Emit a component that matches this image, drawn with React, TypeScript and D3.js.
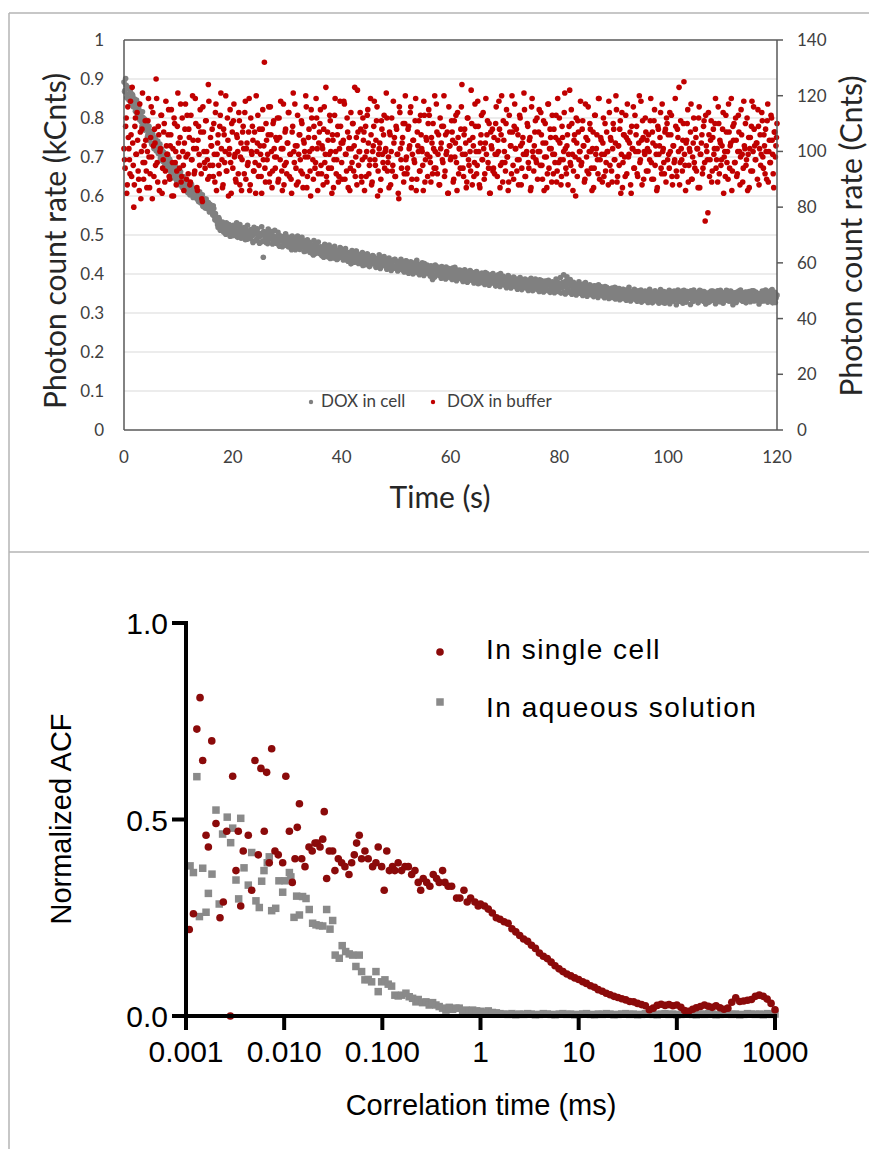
import React from 'react';
import * as d3 from 'd3';

// ---------- Top chart: photon count rate vs time ----------
// readouts at t = 0, 0.2, 0.4 ... 120 s
const cellCountK = [
.892,.871,.884,.860,.878, .850,.866,.842,.858,.835, .829,.845,.812,.838,.820, .803,.790,.816,.781,.797,
.770,.788,.758,.779,.749, .761,.735,.752,.728,.744, .720,.741,.712,.733,.705, .716,.694,.708,.683,.700,
.690,.672,.694,.662,.681, .668,.652,.679,.646,.660, .655,.638,.662,.630,.648, .641,.622,.636,.617,.630,
.625,.612,.630,.604,.618, .611,.598,.607,.590,.603, .598,.585,.603,.578,.592, .588,.574,.581,.566,.579,
.572,.561,.575,.548,.555, .538,.526,.545,.521,.532, .528,.515,.522,.509,.531, .518,.505,.524,.512,.498,
.516,.503,.522,.509,.496, .511,.522,.500,.514,.493, .508,.497,.515,.489,.503, .505,.491,.512,.498,.484,
.503,.514,.490,.506,.495, .497,.482,.505,.443,.500, .488,.499,.478,.492,.503, .493,.505,.481,.496,.487,
.479,.492,.498,.471,.486, .487,.495,.479,.490,.474, .491,.470,.482,.477,.462, .480,.492,.468,.483,.473,
.466,.478,.484,.470,.487, .472,.481,.459,.474,.465, .477,.455,.468,.462,.449, .466,.476,.458,.469,.453,
.455,.468,.447,.461,.472, .458,.466,.444,.460,.451, .463,.450,.447,.459,.441, .452,.438,.461,.449,.466,
.447,.459,.439,.455,.444, .452,.433,.447,.442,.428, .436,.449,.440,.458,.431, .441,.429,.447,.435,.455,
.430,.445,.426,.438,.449, .435,.421,.441,.430,.446, .427,.440,.424,.437,.418, .431,.419,.440,.428,.445,
.422,.436,.416,.433,.425, .427,.413,.435,.421,.438, .418,.432,.414,.426,.420, .423,.410,.431,.418,.434,
.414,.429,.409,.420,.412, .419,.428,.406,.422,.435, .410,.405,.424,.413,.429, .415,.427,.403,.419,.408,
.404,.418,.421,.409,.398, .411,.423,.398,.416,.404, .401,.396,.419,.405,.414, .407,.418,.394,.412,.401,
.405,.392,.415,.400,.417, .398,.410,.389,.404,.396, .407,.386,.399,.411,.393, .401,.384,.396,.409,.388,
.392,.403,.381,.397,.406, .386,.399,.391,.378,.402, .395,.383,.404,.389,.380, .390,.376,.398,.386,.401,
.381,.394,.372,.388,.397, .384,.401,.377,.392,.374, .389,.371,.383,.396,.378, .375,.388,.369,.392,.380,
.386,.373,.379,.364,.391, .377,.385,.367,.381,.372, .369,.384,.376,.362,.389, .381,.366,.373,.387,.370,
.363,.378,.385,.371,.359, .376,.368,.382,.360,.374, .384,.371,.358,.377,.366, .362,.375,.387,.369,.356,
.373,.391,.365,.378,.398, .368,.382,.393,.360,.375, .386,.370,.355,.379,.366, .358,.373,.364,.380,.352,
.369,.356,.374,.361,.378, .354,.367,.349,.372,.360, .365,.351,.370,.357,.346, .361,.372,.353,.366,.348,
.344,.359,.368,.351,.363, .357,.346,.362,.340,.355, .352,.366,.345,.358,.341, .363,.348,.356,.337,.360,
.345,.358,.340,.353,.366, .350,.337,.355,.344,.361, .342,.357,.335,.351,.347, .359,.338,.349,.332,.356,
.343,.354,.336,.361,.346, .335,.350,.344,.357,.339, .352,.333,.347,.360,.341, .338,.355,.325,.346,.351,
.344,.358,.336,.349,.331, .353,.340,.347,.334,.359, .337,.350,.343,.356,.333, .348,.331,.355,.342,.352,
.339,.357,.345,.330,.350, .346,.334,.353,.340,.358, .332,.349,.338,.355,.343, .351,.336,.347,.329,.354,
.341,.356,.333,.348,.337, .350,.330,.345,.358,.339, .336,.352,.342,.334,.357, .347,.331,.355,.340,.350,
.333,.348,.337,.353,.344, .356,.340,.349,.332,.346, .338,.354,.335,.351,.342, .349,.334,.357,.343,.331,
.345,.352,.336,.348,.340, .330,.347,.355,.339,.351, .343,.336,.350,.332,.357, .348,.326,.344,.353,.338,
.346
];
// readouts at t = 0.1, 0.3, 0.5 ... 119.9 s
const cellCountKOdd = [
.868,.901,.852,.879,.846, .872,.838,.861,.829,.849, .817,.846,.803,.829,.795, .812,.778,.801,.769,.790,
.782,.751,.770,.742,.766, .733,.759,.722,.748,.716, .737,.709,.726,.697,.721, .689,.712,.678,.704,.672,
.701,.668,.684,.657,.679, .646,.670,.655,.637,.664, .629,.657,.641,.622,.650, .644,.618,.633,.609,.627,
.603,.627,.612,.596,.620, .619,.594,.605,.586,.611, .582,.601,.574,.593,.569, .592,.568,.583,.559,.577,
.563,.552,.568,.539,.546, .534,.519,.540,.512,.527, .533,.508,.519,.502,.526, .509,.527,.497,.521,.511,
.525,.499,.513,.531,.494, .506,.527,.492,.517,.501, .519,.488,.510,.525,.497, .493,.514,.502,.481,.520,
.510,.486,.516,.497,.479, .503,.521,.484,.509,.492, .481,.504,.515,.489,.498, .509,.477,.496,.512,.483,
.492,.507,.473,.498,.485, .470,.496,.488,.503,.479, .495,.474,.489,.466,.497, .476,.491,.462,.485,.497,
.489,.463,.478,.494,.470, .458,.483,.471,.488,.462, .481,.460,.474,.451,.486, .452,.477,.463,.482,.458,
.470,.449,.464,.443,.476, .447,.469,.456,.474,.440, .466,.441,.458,.471,.452, .437,.460,.446,.468,.443,
.458,.436,.452,.465,.440, .434,.455,.441,.426,.460, .451,.430,.446,.459,.437, .427,.450,.435,.444,.422,
.447,.424,.440,.452,.431, .419,.443,.430,.447,.426, .441,.417,.436,.423,.449, .414,.438,.425,.443,.421,
.436,.412,.428,.441,.419, .409,.433,.420,.437,.415, .431,.408,.426,.414,.438, .412,.429,.405,.421,.433,
.426,.402,.418,.431,.410, .400,.424,.413,.428,.404, .421,.398,.416,.426,.406, .396,.419,.408,.423,.401,
.417,.394,.411,.386,.420, .392,.414,.403,.418,.397, .412,.389,.406,.416,.395, .387,.409,.398,.414,.391,
.408,.386,.401,.413,.392, .383,.405,.394,.410,.388, .404,.381,.397,.409,.385, .379,.402,.390,.406,.384,
.400,.377,.393,.405,.381, .375,.398,.386,.402,.380, .396,.373,.389,.401,.377, .371,.394,.382,.398,.376,
.392,.369,.385,.397,.373, .368,.390,.378,.394,.372, .388,.365,.381,.393,.369, .364,.386,.374,.390,.368,
.384,.361,.377,.389,.365, .360,.382,.370,.387,.364, .380,.358,.373,.386,.362, .357,.379,.367,.384,.361,
.378,.355,.370,.383,.360, .354,.377,.365,.381,.358, .376,.353,.368,.380,.357, .352,.375,.362,.379,.355,
.374,.351,.366,.378,.354, .349,.372,.360,.376,.353, .371,.348,.363,.375,.351, .346,.369,.357,.373,.350,
.368,.345,.360,.372,.349, .343,.366,.354,.370,.347, .364,.342,.357,.369,.346, .340,.363,.351,.367,.344,
.361,.339,.354,.366,.343, .337,.360,.348,.364,.341, .358,.336,.351,.363,.340, .334,.357,.345,.361,.338,
.355,.333,.348,.360,.337, .331,.354,.342,.358,.335, .352,.330,.345,.357,.334, .328,.351,.339,.355,.332,
.349,.327,.342,.356,.333, .326,.350,.338,.354,.331, .348,.325,.341,.355,.332, .327,.349,.337,.353,.330,
.347,.324,.340,.354,.331, .356,.335,.321,.349,.343, .330,.352,.339,.325,.358, .345,.328,.355,.337,.350,
.322,.346,.333,.359,.340, .351,.336,.326,.348,.357, .339,.355,.330,.344,.323, .348,.327,.352,.338,.356,
.333,.350,.341,.324,.347, .357,.338,.329,.353,.336, .325,.349,.343,.358,.332, .344,.331,.356,.339,.321,
.352,.337,.327,.348,.345, .334,.359,.342,.330,.351, .347,.326,.353,.338,.355, .329,.345,.336,.357,.342,
.354,.332,.348,.323,.350, .338,.356,.331,.346,.359, .345,.328,.352,.340,.333, .360,.336,.349,.327,.343
];

const bufferCount = [
101,94,112,88,105,97,118,91,103,80,109,99,114,93,86,107,100,121,90,96,
104,87,111,98,92,116,83,102,108,95,119,89,106,100,113,85,97,110,93,102,
99,115,90,106,84,101,112,96,88,109,103,94,117,91,100,86,108,98,113,92,
105,89,97,120,101,93,110,87,104,99,115,92,82,107,96,111,100,90,118,95,
102,108,91,99,114,86,103,95,109,121,97,88,106,100,93,112,84,101,96,110,
94,117,99,89,105,92,111,98,86,107,101,114,90,103,96,119,88,100,109,93,
107,85,100,113,95,102,91,108,97,132,89,104,99,116,92,106,87,110,101,94,
98,112,90,105,118,93,101,88,107,96,103,114,91,99,85,109,100,117,94,102,
89,106,97,111,92,104,100,120,87,98,108,93,115,101,90,105,96,112,86,103,
110,95,102,88,116,99,91,107,94,113,100,85,104,97,119,92,106,89,101,109,
96,103,118,90,99,112,87,105,94,101,110,93,123,98,88,107,100,114,91,97,
104,86,109,100,115,92,97,106,89,102,118,95,111,84,99,103,90,108,96,113,
100,121,93,98,107,88,112,95,103,91,109,99,85,116,101,94,105,89,110,97,
92,108,101,114,87,99,104,96,119,90,102,111,93,106,100,86,113,97,104,91,
115,98,89,103,110,94,100,117,92,106,88,101,109,96,120,93,99,107,85,102,
97,111,104,90,98,113,86,105,101,94,116,99,91,108,103,89,112,95,100,122,
88,102,96,109,92,118,100,87,106,97,114,90,103,99,111,94,85,107,101,93,
105,99,116,91,100,108,95,120,89,104,96,110,98,86,113,102,92,107,90,117,
101,93,106,97,112,88,103,99,115,91,100,109,94,105,87,119,98,102,111,96,
90,107,100,114,95,103,86,110,98,92,117,101,105,89,99,108,96,113,93,104,
112,97,91,105,100,121,94,102,88,109,96,115,99,93,106,84,103,111,97,100,
95,108,102,89,117,98,104,92,110,100,86,107,94,113,101,97,119,90,105,99,
103,91,110,96,100,88,114,105,93,101,108,97,120,89,102,95,111,99,87,106,
98,113,92,104,99,107,85,101,116,94,100,109,91,103,96,118,88,105,100,112,
93,101,106,97,119,90,103,111,95,99,87,108,102,114,92,100,96,107,89,110,
106,94,100,113,88,102,97,109,91,105,123,96,101,93,110,99,86,104,115,95,
100,117,90,103,96,108,93,101,112,87,99,106,94,111,75,102,97,114,91,104,
89,105,99,110,94,101,116,92,103,97,108,85,100,113,96,90,107,102,119,93,
104,96,112,91,100,107,88,115,99,94,102,110,97,86,105,101,93,118,100,108,
97,103,90,109,101,95,114,98,106,92,100,111,89,104,96,112,99,87,107,102,
110
];
const bufferCountOdd = [
97,109,85,116,101,92,106,123,95,88,112,99,104,90,117,83,108,96,102,111,
93,100,119,87,105,98,114,91,103,126,96,109,86,101,113,94,107,89,118,99,
106,91,102,115,96,84,110,100,93,121,98,105,89,112,95,103,117,90,99,108,
88,113,97,104,92,119,101,86,109,95,107,83,116,100,94,111,97,124,91,105,
102,95,110,89,117,99,106,92,113,101,87,108,96,120,93,104,99,115,85,107,
111,98,90,106,100,114,88,103,97,109,92,118,101,95,107,86,112,99,104,93,
96,120,103,91,108,99,85,115,102,94,110,97,106,89,116,100,93,111,98,105,
104,89,112,97,101,86,117,95,108,92,103,114,99,90,107,121,96,102,88,113,
99,106,93,110,87,103,98,116,91,105,100,84,112,97,109,94,119,101,92,107,
115,92,101,108,96,123,89,104,99,111,94,106,87,113,100,97,109,91,118,103,
90,104,117,99,93,107,101,86,114,96,110,102,91,105,122,95,100,108,89,112,
107,98,91,113,103,95,119,88,100,109,97,104,116,93,101,86,111,99,106,94,
101,112,96,87,106,100,93,118,105,91,108,99,83,114,97,103,110,92,120,98,
94,109,102,116,90,104,97,111,86,107,100,93,113,101,95,118,89,105,99,110,
113,96,105,92,101,120,94,107,99,88,112,103,97,109,91,106,100,85,116,102,
98,107,89,111,103,96,114,92,101,108,124,94,106,99,87,112,97,104,93,110,
105,91,117,100,95,109,88,103,113,97,101,92,119,106,96,110,85,102,108,94,
92,110,99,104,118,87,106,96,111,100,93,115,98,89,107,102,120,95,109,101,
108,97,88,113,102,94,105,121,91,99,110,96,104,86,116,100,93,107,97,112,
100,115,95,106,90,111,98,103,87,117,94,108,101,113,92,99,105,89,119,96,
103,88,109,97,114,101,92,106,99,122,95,110,86,104,98,112,91,107,100,118,
96,111,102,90,105,93,116,100,108,94,101,87,113,99,106,92,119,97,104,89,
112,99,93,107,100,118,95,104,89,110,97,103,115,91,102,108,85,114,96,106,
91,105,117,98,103,88,109,101,94,113,106,92,100,120,97,104,111,90,99,107,
104,93,100,111,96,107,90,115,102,86,109,99,105,94,117,101,92,108,112,97,
99,114,106,91,102,96,119,93,108,100,88,111,97,104,125,95,103,110,89,101,
107,90,98,112,94,105,101,87,116,99,103,92,109,96,113,100,78,106,97,111,
93,108,101,119,97,89,110,104,95,102,114,98,91,107,100,117,94,103,86,109,
110,96,104,92,113,100,98,106,89,118,101,95,112,99,87,105,109,93,116,102,
97,103,115,88,106,99,111,94,102,108,90,117,100,96,113,104,92,107,98,105
];

const sampleStep = 0.2; // s between readouts of one array
const oddOffset = 0.1;  // s offset of the interleaved readouts
const timeTicks = [0, 20, 40, 60, 80, 100, 120];
const kCntTicks = [0, 0.1, 0.2, 0.3, 0.4, 0.5, 0.6, 0.7, 0.8, 0.9, 1];
const cntTicks = [0, 20, 40, 60, 80, 100, 120, 140];

// ---------- Bottom chart: normalized ACF vs correlation time (ms) ----------
const cellEarly: [number, number][] = [
[.00108,.22],[.00119,.26],[.00129,.73],[.00139,.81],[.00148,.65],[.0016,.46],[.00169,.43],[.00183,.70],
[.00202,.49],[.00222,.25],[.0024,.29],[.0026,.47],[.00283,0],[.00299,.61],[.00323,.37],[.00341,.47],[.00361,.28],
[.00383,.42],[.00431,.46],[.00467,.32],[.00504,.65],[.00545,.41],[.0058,.63],[.00627,.47],[.00663,.62],
[.00705,.39],[.00746,.68],[.00806,.42],[.00871,.41],[.00966,.39],[.0104,.61],[.0113,.47],[.0121,.34],
[.0129,.40],[.0136,.48],[.0143,.54],[.0151,.40],[.0163,.38],[.0179,.43],[.0193,.42],[.0206,.44],
[.0217,.44],[.0232,.43],[.0247,.45],[.0256,.52],[.0271,.35],[.0288,.42],[.0312,.42],[.0329,.37],
[.0356,.40],[.0385,.39],[.0416,.38],[.0457,.36],[.0487,.39],[.0518,.41],[.0547,.44],[.0582,.46],
[.0615,.40],[.0665,.42],[.0718,.40],[.0796,.38],[.0861,.39],[.0908,.43],[.0984,.38],[.1045,.32],
[.111,.42],[.118,.37],[.127,.38],[.134,.37],[.145,.39],[.157,.37],[.17,.38],[.184,.38],[.199,.36],
[.215,.37],[.232,.34],[.246,.32],[.261,.35],[.283,.34],[.305,.33],[.33,.36],[.357,.35],[.38,.34],
[.411,.37],[.434,.34],[.469,.33],[.508,.33],[.571,.30],[.617,.30],[.678,.32],[.732,.29],[.793,.30],
[.877,.29],[.948,.28]
];

const solutionEarly: [number, number][] = [
[.0011,.382],[.00119,.365],[.00129,.609],[.00137,.253],[.00148,.376],[.0016,.264],[.00169,.312],
[.00184,.361],[.00202,.524],[.00218,.285],[.00236,.463],[.00263,.506],[.00285,.441],[.00299,.478],
[.00323,.346],[.00344,.298],[.00361,.503],[.0039,.377],[.00431,.333],[.00467,.416],[.00516,.293],
[.00558,.276],[.0059,.343],[.00623,.37],[.00673,.39],[.00705,.405],[.00746,.268],[.0082,.274],
[.00885,.344],[.00966,.315],[.0102,.344],[.0113,.365],[.0117,.354],[.0126,.251],[.0134,.305],
[.0143,.257],[.0154,.304],[.0167,.299],[.018,.271],[.0195,.236],[.0211,.232],[.0228,.23],[.0247,.229],
[.0271,.271],[.0293,.221],[.0312,.243],[.0331,.155],[.0364,.147],[.039,.179],[.0423,.164],[.046,.158],
[.0499,.155],[.0538,.126],[.0582,.155],[.0615,.113],[.0665,.092],[.0718,.093],[.0778,.087],[.0861,.113],
[.0908,.062],[.0984,.087],[.1063,.092],[.1148,.081],[.1243,.076],[.1343,.053],[.1452,.051],[.1572,.053],
[.1739,.058],[.1879,.049],[.2034,.045],[.2198,.036],[.232,.042],[.257,.034],[.278,.036],[.3004,.028],
[.3252,.034],[.3515,.028],[.3795,.024],[.4112,.02],[.4444,.015],[.4802,.022],[.52,.017],[.5614,.02],
[.607,.02],[.6574,.013],[.7099,.015],[.767,.011],[.831,.015],[.912,.013]
];

const lateLagMs = [
1,1.1,1.2,1.32,1.45,1.58,1.74,1.91,2.09,2.29,2.51,2.75,3.02,3.31,3.63,3.98,4.37,4.79,5.25,5.75,6.31,6.92,7.59,8.32,9.12,
10,11,12,13.2,14.5,15.8,17.4,19.1,20.9,22.9,25.1,27.5,30.2,33.1,36.3,39.8,43.7,47.9,52.5,57.5,63.1,69.2,75.9,83.2,91.2,
100,110,120,132,145,158,174,191,209,229,251,275,302,331,363,398,437,479,525,575,631,692,759,832,912,
1000
];
const cellLate = [
.285,.28,.272,.262,.25,.246,.24,.236,.222,.214,
.205,.196,.19,.18,.172,.16,.152,.146,.137,.128,
.12,.113,.107,.102,.097,.093,.087,.083,.077,.073,
.067,.063,.058,.054,.05,.047,.044,.041,.037,.036,
.032,.029,.026,.016,.02,.027,.03,.027,.029,.026,
.028,.022,.014,.012,.017,.021,.024,.028,.025,.022,
.026,.021,.017,.02,.035,.046,.037,.038,.04,.042,
.05,.053,.05,.043,.032,.016
];
const solutionLate = [
.012,.010,.013,.009,.008,.006,.005,.004,.006,.003,
.005,.004,.006,.005,.003,.004,.006,.005,.004,.003,
.005,.006,.004,.005,.003,.004,.005,.006,.004,.003,
.005,.004,.006,.005,.003,.004,.005,.006,.004,.005,
.003,.004,.006,.005,.004,.003,.005,.006,.004,.005,
.003,.004,.005,.006,.004,.003,.005,.004,.006,.005,
.003,.004,.005,.006,.004,.005,.003,.004,.006,.005,
.004,.005,.003,.006,.004,.005
];

const lagTicks = [0.001, 0.01, 0.1, 1, 10, 100, 1000];
const lagTickLabels = ['0.001', '0.010', '0.100', '1', '10', '100', '1000'];
const acfTicks = [0, 0.5, 1];
const acfTickLabels = ['0.0', '0.5', '1.0'];

const RED_TOP = '#c00000';
const GRAY_TOP = '#808080';
const RED_BOT = '#8b0a0a';
const GRAY_BOT = '#8a8a8a';

export default function App() {
  const xT = d3.scaleLinear().domain([0, 120]).range([124, 777]);
  const yL = d3.scaleLinear().domain([0, 1]).range([430, 40]);
  const yR = d3.scaleLinear().domain([0, 140]).range([430, 40]);
  const xB = d3.scaleLog().domain([0.001, 1000]).range([186, 775]);
  const yB = d3.scaleLinear().domain([0, 1]).range([1016, 623]);

  const topFont = 'Lato, "Open Sans", sans-serif';
  const botFont = '"Liberation Sans", Arial, Helvetica, sans-serif';
  const sq = 7.5;
  const rTop = 2.8;

  const cellPts: [number, number][] = [
    ...cellCountK.map((v, i) => [i * sampleStep, v] as [number, number]),
    ...cellCountKOdd.map((v, i) => [oddOffset + i * sampleStep, v] as [number, number]),
  ];
  const bufPts: [number, number][] = [
    ...bufferCount.map((v, i) => [i * sampleStep, v] as [number, number]),
    ...bufferCountOdd.map((v, i) => [oddOffset + i * sampleStep, v] as [number, number]),
  ];

  const solAll: [number, number][] = [...solutionEarly, ...lateLagMs.map((t, i) => [t, solutionLate[i]] as [number, number])];
  const cellAll: [number, number][] = [...cellEarly, ...lateLagMs.map((t, i) => [t, cellLate[i]] as [number, number])];

  return (
    <svg width={869} height={1149} style={{ position: 'absolute', left: 0, top: 0, background: '#fff' }}>
      <rect x={0} y={0} width={869} height={1149} fill="#fff" />
      {/* frame */}
      <line x1={9} y1={13} x2={869} y2={13} stroke="#b4b4b4" strokeWidth={1.5} />
      <line x1={9} y1={13} x2={9} y2={1149} stroke="#b4b4b4" strokeWidth={1.5} />
      <line x1={9} y1={552} x2={869} y2={552} stroke="#b4b4b4" strokeWidth={1.5} />

      {/* ===== top chart ===== */}
      {kCntTicks.filter((v) => v > 0 && v < 1).map((v) => (
        <line key={'g' + v} x1={xT(0)} x2={xT(120)} y1={yL(v)} y2={yL(v)} stroke="#d9d9d9" strokeWidth={1} />
      ))}
      <g>
        {cellPts.map(([t, v], i) => (
          <circle key={'c' + i} cx={xT(t)} cy={yL(v)} r={rTop} fill={GRAY_TOP} />
        ))}
      </g>
      <g>
        {bufPts.map(([t, v], i) => (
          <circle key={'b' + i} cx={xT(t)} cy={yR(v)} r={rTop} fill={RED_TOP} />
        ))}
      </g>
      {/* box / axes */}
      <line x1={xT(0)} x2={xT(120)} y1={yL(1)} y2={yL(1)} stroke="#595959" strokeWidth={1.5} />
      <line x1={xT(0)} x2={xT(0)} y1={yL(0)} y2={yL(1)} stroke="#595959" strokeWidth={1.5} />
      <line x1={xT(0)} x2={xT(120)} y1={yL(0)} y2={yL(0)} stroke="#595959" strokeWidth={1.5} />
      <line x1={xT(120)} x2={xT(120)} y1={yR(0)} y2={yR(140)} stroke="#595959" strokeWidth={1.5} />
      {cntTicks.map((v) => (
        <line key={'rt' + v} x1={xT(120)} x2={xT(120) + 6} y1={yR(v)} y2={yR(v)} stroke="#595959" strokeWidth={1.5} />
      ))}
      <g fontFamily={topFont} fontSize={17} fill="#404040">
        {kCntTicks.map((v) => (
          <text key={'lt' + v} x={104} y={yL(v) + 6} textAnchor="end">{d3.format('~g')(v)}</text>
        ))}
        {cntTicks.map((v) => (
          <text key={'rl' + v} x={797} y={yR(v) + 6} textAnchor="start">{v}</text>
        ))}
        {timeTicks.map((v) => (
          <text key={'xt' + v} x={xT(v)} y={463} textAnchor="middle">{v}</text>
        ))}
      </g>
      <g fontFamily={topFont} fontSize={30} fill="#262626">
        <text transform={`translate(66,${241}) rotate(-90)`} textAnchor="middle">Photon count rate (kCnts)</text>
        <text transform={`translate(862,${236}) rotate(-90)`} textAnchor="middle">Photon count rate (Cnts)</text>
        <text x={440} y={508} textAnchor="middle">Time (s)</text>
      </g>
      <g fontFamily={topFont} fontSize={17} fill="#404040">
        <circle cx={311} cy={402} r={2.2} fill={GRAY_TOP} />
        <text x={321} y={407}>DOX in cell</text>
        <circle cx={433} cy={402} r={2.2} fill={RED_TOP} />
        <text x={447} y={407}>DOX in buffer</text>
      </g>

      {/* ===== bottom chart ===== */}
      <g>
        {solAll.map(([t, v], i) => (
          <rect key={'s' + i} x={xB(t) - sq / 2} y={yB(v) - sq / 2} width={sq} height={sq} fill={GRAY_BOT} />
        ))}
      </g>
      <g>
        {cellAll.map(([t, v], i) => (
          <circle key={'k' + i} cx={xB(t)} cy={yB(v)} r={3.8} fill={RED_BOT} />
        ))}
      </g>
      {/* axes */}
      <line x1={xB(0.001)} x2={xB(0.001)} y1={yB(1) - 2} y2={yB(0) + 2} stroke="#000" strokeWidth={4} />
      <line x1={xB(0.001) - 2} x2={xB(1000) + 2} y1={yB(0)} y2={yB(0)} stroke="#000" strokeWidth={4} />
      {acfTicks.map((v) => (
        <line key={'ay' + v} x1={xB(0.001) - 14} x2={xB(0.001)} y1={yB(v)} y2={yB(v)} stroke="#000" strokeWidth={4} />
      ))}
      {lagTicks.map((t) => (
        <line key={'ax' + t} x1={xB(t)} x2={xB(t)} y1={yB(0)} y2={yB(0) + 14} stroke="#000" strokeWidth={4} />
      ))}
      <g fontFamily={botFont} fontSize={30} fill="#000">
        {acfTicks.map((v, i) => (
          <text key={'al' + v} x={168} y={yB(v) + 11} textAnchor="end">{acfTickLabels[i]}</text>
        ))}
        {lagTicks.map((t, i) => (
          <text key={'xl' + t} x={xB(t)} y={1062} textAnchor="middle">{lagTickLabels[i]}</text>
        ))}
      </g>
      <g fontFamily={botFont} fontSize={29} fill="#000">
        <text transform={`translate(71,${819}) rotate(-90)`} textAnchor="middle">Normalized ACF</text>
        <text x={481} y={1115} textAnchor="middle">Correlation time (ms)</text>
      </g>
      <g fontFamily={botFont} fontSize={28} fill="#000" letterSpacing={1.5}>
        <circle cx={440} cy={652} r={3.8} fill={RED_BOT} />
        <text x={486} y={659}>In single cell</text>
        <rect x={440 - sq / 2} y={702 - sq / 2} width={sq} height={sq} fill={GRAY_BOT} />
        <text x={486} y={717}>In aqueous solution</text>
      </g>
    </svg>
  );
}
